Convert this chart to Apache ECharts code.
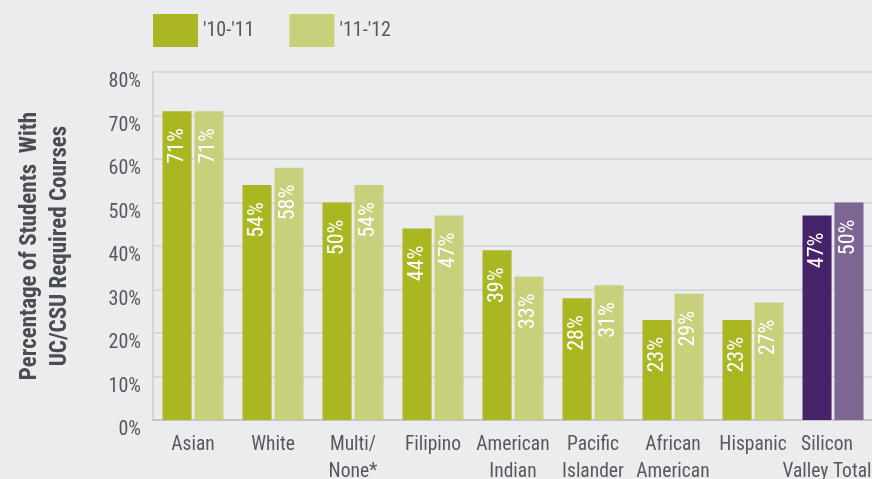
<!DOCTYPE html>
<html>
<head>
<meta charset="utf-8">
<script src="https://cdn.jsdelivr.net/npm/echarts@6/dist/echarts.min.js"></script>
<style>
  html, body { margin: 0; padding: 0; background: #ebecee; }
  #chart { width: 872px; height: 479px; }
</style>
</head>
<body>
<div id="chart"></div>
<script>
// Share of students completing UC/CSU required courses, by ethnicity
const categories = ['Asian', 'White', 'Multi/\nNone*', 'Filipino', 'American\nIndian',
  'Pacific\nIslander', 'African\nAmerican', 'Hispanic', 'Silicon\nValley Total'];
const seriesNames = ["'10-'11", "'11-'12"];
const values1011 = [71, 54, 50, 44, 39, 28, 23, 23, 47];
const values1112 = [71, 58, 54, 47, 33, 31, 29, 27, 50];
const yTicks = [0, 10, 20, 30, 40, 50, 60, 70, 80];

const FONT = '"Roboto Condensed", "Liberation Sans", sans-serif';
const TEXT = '#55595e';
const colors1011 = { base: '#aab722', total: '#47236a' };
const colors1112 = { base: '#c8d07b', total: '#7d6594' };
const lastIndex = categories.length - 1;

function buildData(values, palette) {
  return values.map((v, i) => ({
    value: v,
    itemStyle: { color: i === lastIndex ? palette.total : palette.base }
  }));
}

// the county total label sits at the right edge, so nudge it inward a little
const categoryData = categories.map((c, i) =>
  i === lastIndex ? { value: c, textStyle: { padding: [0, 12, 0, 0] } } : c);

const barLabel = {
  show: true,
  position: 'insideTop',
  rotate: 90,
  align: 'right',
  verticalAlign: 'middle',
  distance: 17,
  color: '#ffffff',
  fontFamily: FONT,
  fontSize: 22,
  formatter: p => p.value + '%'
};

const chart = echarts.init(document.getElementById('chart'), null, { renderer: 'canvas' });
chart.setOption({
  backgroundColor: '#ebecee',
  animation: false,
  legend: {
    left: 153,
    top: 14,
    padding: 0,
    itemWidth: 45,
    itemHeight: 33,
    itemGap: 35,
    icon: 'rect',
    textStyle: { fontFamily: FONT, fontSize: 20, color: TEXT },
    data: seriesNames
  },
  grid: { left: 153, top: 72, width: 720, bottom: 59, containLabel: false, outerBoundsMode: 'none' },
  xAxis: {
    type: 'category',
    data: categoryData,
    axisLine: { show: true, lineStyle: { color: '#c3c4c6', width: 2 } },
    axisTick: { show: false },
    axisLabel: {
      interval: 0,
      fontFamily: FONT,
      fontSize: 19.5,
      lineHeight: 27,
      color: TEXT,
      margin: 12
    }
  },
  yAxis: {
    type: 'value',
    min: yTicks[0],
    max: yTicks[yTicks.length - 1],
    interval: 10,
    name: 'Percentage of Students  With\nUC/CSU Required Courses',
    nameLocation: 'middle',
    nameRotate: 90,
    nameGap: 78,
    nameTextStyle: { fontFamily: FONT, fontSize: 23, fontWeight: 'bold', color: '#4a4e53', lineHeight: 30 },
    axisLine: { show: true, lineStyle: { color: '#d3d4d6', width: 2 } },
    axisTick: { show: false },
    axisLabel: {
      fontFamily: FONT,
      fontSize: 20,
      color: TEXT,
      margin: 12,
      verticalAlign: 'top',
      formatter: v => v + '%'
    },
    splitLine: { show: true, lineStyle: { color: '#d7d8da', width: 2 } }
  },
  series: [
    {
      name: seriesNames[0],
      type: 'bar',
      itemStyle: { color: colors1011.base },
      data: buildData(values1011, colors1011),
      barGap: '10%',
      barCategoryGap: '23.75%',
      label: barLabel
    },
    {
      name: seriesNames[1],
      type: 'bar',
      itemStyle: { color: colors1112.base },
      data: buildData(values1112, colors1112),
      barGap: '10%',
      barCategoryGap: '23.75%',
      label: barLabel
    }
  ]
});
</script>
</body>
</html>
